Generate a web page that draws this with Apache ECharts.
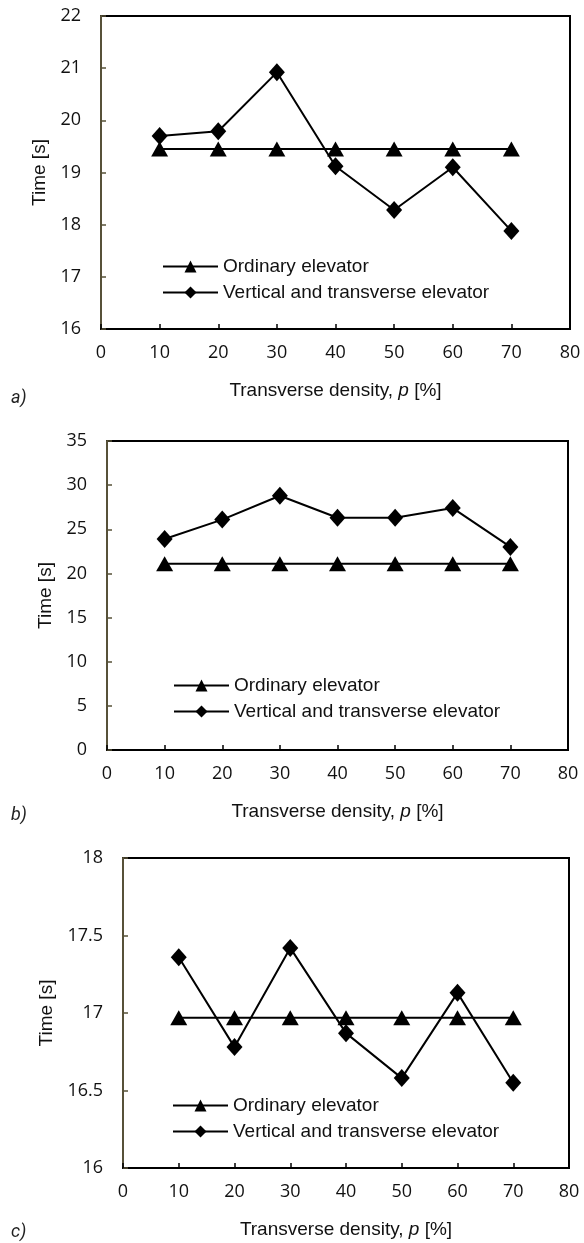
<!DOCTYPE html>
<html><head><meta charset="utf-8">
<script src="https://cdn.jsdelivr.net/npm/echarts@6/dist/echarts.min.js"></script>
<style>html,body{margin:0;padding:0;background:#fff}#c{width:584px;height:1243px}</style>
</head><body><div id="c"></div>
<script>
const densities = [10, 20, 30, 40, 50, 60, 70];
const seriesNames = ['Ordinary elevator', 'Vertical and transverse elevator'];
const ordinaryA = [19.45, 19.45, 19.45, 19.45, 19.45, 19.45, 19.45];
const verticalA = [19.70, 19.79, 20.92, 19.12, 18.28, 19.10, 17.88];
const ordinaryB = [21.1, 21.1, 21.1, 21.1, 21.1, 21.1, 21.1];
const verticalB = [23.9, 26.1, 28.8, 26.3, 26.3, 27.4, 23.0];
const ordinaryC = [16.97, 16.97, 16.97, 16.97, 16.97, 16.97, 16.97];
const verticalC = [17.36, 16.78, 17.42, 16.87, 16.58, 17.13, 16.55];
const yRanges = [[16, 22, 1], [0, 35, 5], [16, 18, 0.5]];
const xRange = [0, 80, 10];
const panelLabels = ['a)', 'b)', 'c)'];
const panelData = [[ordinaryA, verticalA], [ordinaryB, verticalB], [ordinaryC, verticalC]];

const grids = [
  {left: 101, top: 16, width: 469, height: 313, yGap: 47, legendLeft: 157, legendTop: 252, labelY: 399},
  {left: 107, top: 441, width: 461, height: 309, yGap: 51, legendLeft: 168, legendTop: 671, labelY: 816},
  {left: 123, top: 858, width: 446, height: 310, yGap: 67, legendLeft: 167, legendTop: 1091, labelY: 1233}
];
const tickFont = {fontFamily: 'Open Sans', fontSize: 18, color: '#111'};
const textFont = 'Liberation Sans';

const option = {
  animation: false,
  backgroundColor: '#fff',
  grid: grids.map(g => ({left: g.left, top: g.top, width: g.width, height: g.height,
    show: true, borderColor: '#000', borderWidth: 2, backgroundColor: 'transparent'})),
  xAxis: grids.map((g, i) => ({
    type: 'value', gridIndex: i, min: xRange[0], max: xRange[1], interval: xRange[2],
    splitLine: {show: false},
    axisLine: {show: true, onZero: false, lineStyle: {color: '#000', width: 2}},
    axisTick: {show: true, inside: true, length: 5, lineStyle: {color: '#000', width: 1.5}},
    axisLabel: Object.assign({margin: 15}, tickFont),
    name: 'Transverse density, {i|p} [%]', nameLocation: 'middle', nameGap: 52,
    nameTextStyle: {fontFamily: textFont, fontSize: 19, color: '#111',
      rich: {i: {fontFamily: textFont, fontSize: 19, fontStyle: 'italic', color: '#111'}}}
  })),
  yAxis: grids.map((g, i) => ({
    type: 'value', gridIndex: i, min: yRanges[i][0], max: yRanges[i][1], interval: yRanges[i][2],
    splitLine: {show: false},
    axisLine: {show: true, onZero: false, lineStyle: {color: '#575139', width: 2}},
    axisTick: {show: true, inside: true, length: 5, lineStyle: {color: '#575139', width: 1.5}},
    axisLabel: Object.assign({margin: 20}, tickFont),
    name: 'Time [s]', nameLocation: 'middle', nameGap: g.yGap,
    nameTextStyle: {fontFamily: textFont, fontSize: 19, color: '#111'}
  })),
  legend: grids.map(g => ({
    data: seriesNames, orient: 'vertical', left: g.legendLeft, top: g.legendTop,
    itemWidth: 55, itemHeight: 15, itemGap: 7,
    textStyle: {fontFamily: textFont, fontSize: 19, color: '#111'}
  })),
  graphic: grids.map((g, i) => ({
    type: 'text', left: 11, top: g.labelY - 10,
    style: {text: panelLabels[i], font: 'italic 18px Roboto', fill: '#222'}
  })),
  series: []
};
panelData.forEach((pd, i) => {
  option.series.push({
    name: seriesNames[0], type: 'line', xAxisIndex: i, yAxisIndex: i,
    data: densities.map((x, k) => [x, pd[0][k]]),
    symbol: 'triangle', symbolSize: [17, 15],
    lineStyle: {color: '#000', width: 2}, itemStyle: {color: '#000'}
  });
  option.series.push({
    name: seriesNames[1], type: 'line', xAxisIndex: i, yAxisIndex: i,
    data: densities.map((x, k) => [x, pd[1][k]]),
    symbol: 'diamond', symbolSize: [16, 18],
    lineStyle: {color: '#000', width: 2}, itemStyle: {color: '#000'}
  });
});
const chart = echarts.init(document.getElementById('c'), null, {renderer: 'canvas'});
chart.setOption(option);
</script></body></html>
